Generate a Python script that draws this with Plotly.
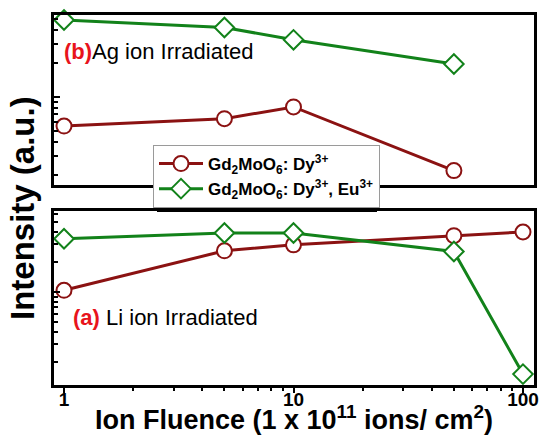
import plotly.graph_objects as go

# Ion fluence (x 1e11 ions/cm^2)
fluence_ag = [1, 5, 10, 50]
fluence_li = [1, 5, 10, 50, 100]

# Ag ion irradiated samples: PL intensity (a.u.)
ag_dy = [5.5, 6.4, 8.15, 2.2]
ag_dy_eu = [48.7, 41.7, 32.4, 19.7]

# Li ion irradiated samples: PL intensity (a.u.)
li_dy = [10.4, 25.8, 29.6, 36.6, 39.8]
li_dy_eu = [34.1, 38.9, 38.9, 25.4, 1.51]

name_dy = "<b>Gd<sub>2</sub>MoO<sub>6</sub>: Dy<sup>3+</sup></b>"
name_dy_eu = "<b>Gd<sub>2</sub>MoO<sub>6</sub>: Dy<sup>3+</sup>, Eu<sup>3+</sup></b>"

RED = "#8b1212"
GREEN = "#12821a"
FONT = "Liberation Sans, Arial, sans-serif"

W, H = 547, 435
ML, MR, MT, MB = 54, 13, 15, 50
PW, PH = W - ML - MR, H - MT - MB


def px_x(x):
    return (x - ML) / PW


def px_y(y):
    return (H - MB - y) / PH


def series(x, y, name, color, symbol, size, xa, ya, show):
    return go.Scatter(
        x=x, y=y, name=name, mode="lines+markers",
        line=dict(color=color, width=3),
        marker=dict(symbol=symbol, size=size, color="white",
                    line=dict(color=color, width=2)),
        xaxis=xa, yaxis=ya, showlegend=show, cliponaxis=False,
    )


fig = go.Figure()
fig.add_trace(series(fluence_ag, ag_dy, name_dy, RED, "circle", 15, "x2", "y2", True))
fig.add_trace(series(fluence_ag, ag_dy_eu, name_dy_eu, GREEN, "diamond", 15, "x2", "y2", True))
fig.add_trace(series(fluence_li, li_dy, name_dy, RED, "circle", 15, "x", "y", False))
fig.add_trace(series(fluence_li, li_dy_eu, name_dy_eu, GREEN, "diamond", 15, "x", "y", False))

xrange = [-0.0436, 2.048]
frame = dict(showline=True, linecolor="black", linewidth=3, mirror=True,
             showgrid=False, zeroline=False)

fig.update_layout(
    width=W, height=H,
    margin=dict(l=ML, r=MR, t=MT, b=MB),
    paper_bgcolor="white", plot_bgcolor="white",
    font=dict(family=FONT, color="black"),
    xaxis=dict(type="log", range=xrange, domain=[0, 1], anchor="y",
               ticks="outside", ticklen=5, tickwidth=2, tickcolor="black",
               dtick=1, ticklabelstandoff=-10,
               minor=dict(ticks="outside", ticklen=3, tickwidth=2, tickcolor="black"),
               tickfont=dict(size=19, family=FONT, weight="bold"),
               automargin=False, **frame),
    yaxis=dict(type="log", range=[0.07, 1.81], domain=[0, px_y(211)], anchor="x",
               showticklabels=False, ticks="inside", ticklen=6, tickwidth=2,
               tickcolor="black", dtick=1,
               minor=dict(ticks="inside", ticklen=4, tickwidth=2, tickcolor="black"),
               automargin=False, **frame),
    xaxis2=dict(type="log", range=xrange, domain=[0, 1], anchor="y2",
                showticklabels=False, ticks="", automargin=False, **frame),
    yaxis2=dict(type="log", range=[0.214, 1.732], domain=[px_y(185), 1], anchor="x2",
                showticklabels=False, ticks="inside", ticklen=6, tickwidth=2,
                tickcolor="black", dtick=1,
                minor=dict(ticks="inside", ticklen=4, tickwidth=2, tickcolor="black"),
                automargin=False, **frame),
    legend=dict(x=px_x(153), y=px_y(145), xanchor="left", yanchor="top",
                bgcolor="white", bordercolor="#9a9a9a", borderwidth=1,
                font=dict(size=17, family=FONT, color="black"),
                itemwidth=44, tracegroupgap=0),
    showlegend=True,
)

# drop shadow of the legend box
fig.add_shape(type="rect", xref="paper", yref="paper",
              x0=px_x(157), x1=px_x(377), y0=px_y(212), y1=px_y(149),
              fillcolor="black", line=dict(width=0), layer="above")

# x-axis title
fig.add_annotation(
    text="<b>Ion Fluence (1 x 10<sup>11</sup> ions/ cm<sup>2</sup>)</b>",
    xref="paper", yref="paper", x=px_x(294), y=px_y(437),
    xanchor="center", yanchor="bottom", showarrow=False,
    font=dict(size=27, family=FONT, color="black"))

# shared y-axis title
fig.add_annotation(
    text="<b>Intensity (a.u.)</b>", textangle=-90,
    xref="paper", yref="paper", x=px_x(22), y=px_y(208),
    xanchor="center", yanchor="middle", showarrow=False,
    font=dict(size=33, family=FONT, color="black"))

fig.add_annotation(
    text="<b><span style='color:#e8141c'>(b)</span></b>Ag ion Irradiated",
    xref="paper", yref="paper", x=px_x(62), y=px_y(51),
    xanchor="left", yanchor="middle", showarrow=False,
    font=dict(size=22, family=FONT, color="black"))

fig.add_annotation(
    text="<b><span style='color:#e8141c'>(a)</span></b> Li ion Irradiated",
    xref="paper", yref="paper", x=px_x(71), y=px_y(317),
    xanchor="left", yanchor="middle", showarrow=False,
    font=dict(size=22, family=FONT, color="black"))

fig.write_html("out.html")
